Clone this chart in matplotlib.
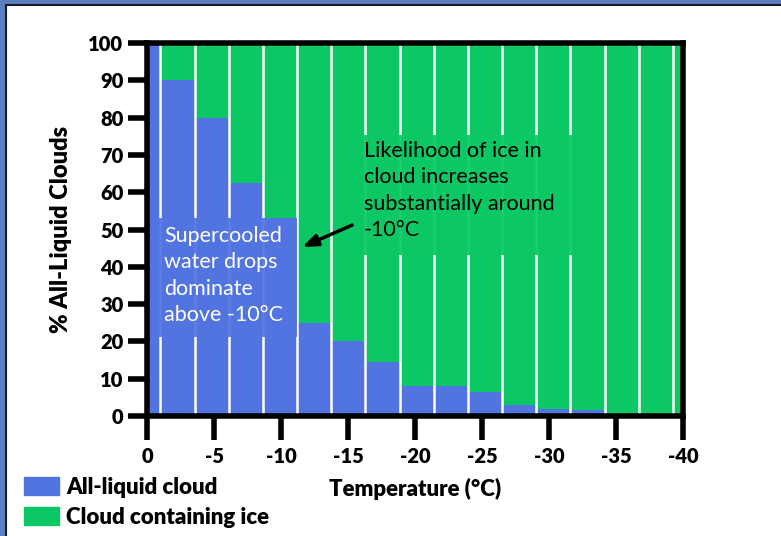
import matplotlib.pyplot as plt
import matplotlib.patches as mpatches
import numpy as np

plt.rcParams['axes.unicode_minus'] = False

# temperature bin edges (deg C) and % of all-liquid clouds in each bin
temp_edges = [0, -1, -3.55, -6.1, -8.65, -11.2, -13.75, -16.3, -18.85, -21.4,
              -23.95, -26.5, -29.05, -31.6, -34.15, -36.7, -39.25, -40]
liquid_pct = [100, 90, 80, 62.5, 53, 25, 20, 14.5, 8, 8, 6.5, 3, 2, 1.5, 0, 0, 0]
x_ticks = [0, -5, -10, -15, -20, -25, -30, -35, -40]
y_ticks = list(range(0, 101, 10))

blue = '#5274e0'
green = '#0cc864'

edges = np.array(temp_edges)
liquid = np.array(liquid_pct)
left = edges[:-1]
widths = edges[1:] - edges[:-1]

fig = plt.figure(figsize=(7.81, 5.36), dpi=100)
# slide-like frame
fig.patches.append(mpatches.Rectangle((0, 0), 1, 1, transform=fig.transFigure,
                                      facecolor='#5b7fbf', edgecolor='none', zorder=-10))
fig.patches.append(mpatches.Rectangle((6 / 781, -0.1), 1.1, 1.1 - 5 / 536,
                                      transform=fig.transFigure, facecolor='white',
                                      edgecolor='#1a1a2a', linewidth=1.5, zorder=-9))

ax = fig.add_axes([147 / 781, 1 - 416 / 536, (683 - 147) / 781, (416 - 43) / 536])
ax.bar(left, liquid, width=widths, align='edge', color=blue, linewidth=0)
ax.bar(left, 100 - liquid, width=widths, bottom=liquid, align='edge', color=green, linewidth=0)
ax.vlines(edges[1:-1], 0, 100, colors='white', linewidth=1.8, zorder=3)

ax.set_xlim(0, -40)
ax.set_ylim(0, 100)
ax.set_xticks(x_ticks)
ax.set_yticks(y_ticks)
for s in ax.spines.values():
    s.set_linewidth(4)
    s.set_zorder(5)
ax.tick_params(axis='both', direction='out', width=4, labelsize=14.5)
ax.tick_params(axis='y', length=14, pad=3)
ax.tick_params(axis='x', length=17, pad=5)
for lab in ax.get_xticklabels() + ax.get_yticklabels():
    lab.set_fontfamily('Lato')
    lab.set_fontweight('heavy')

ax.set_ylabel('% All-Liquid Clouds', fontsize=17, fontweight='heavy', family='Lato', labelpad=12)
ax.set_xlabel('Temperature (\u00b0C)', fontsize=16, fontweight='heavy', family='Lato', labelpad=9)

# annotation boxes (axes fraction)
ax.add_patch(mpatches.Rectangle((0, (416 - 337) / 373), 150 / 536, 119 / 373,
                                transform=ax.transAxes, facecolor=blue, edgecolor='none',
                                alpha=0.93, zorder=4))
ax.add_patch(mpatches.Rectangle((213 / 536, (416 - 255) / 373), 215 / 536, 120 / 373,
                                transform=ax.transAxes, facecolor=green, edgecolor='none',
                                alpha=0.93, zorder=4))
ax.text(17 / 536, (416 - 226) / 373, 'Supercooled\nwater drops\ndominate\nabove -10\u00b0C',
        transform=ax.transAxes, color='white', fontsize=15.5, family='Lato',
        va='top', ha='left', linespacing=1.4, zorder=6)
ax.text(217 / 536, (416 - 141) / 373,
        'Likelihood of ice in\ncloud increases\nsubstantially around\n-10\u00b0C',
        transform=ax.transAxes, color='black', fontsize=15.5, family='Lato',
        va='top', ha='left', linespacing=1.4, zorder=6)
ax.annotate('', xy=(-11.4, 45), xytext=(-15.5, 51.5),
            arrowprops=dict(arrowstyle='-|>,head_length=0.9,head_width=0.35', color='black', lw=2.5),
            zorder=7)

# legend
fig.legend(handles=[mpatches.Patch(color=blue, label='All-liquid cloud'),
                    mpatches.Patch(color=green, label='Cloud containing ice')],
           loc='lower left', bbox_to_anchor=(12 / 781, -4 / 536), frameon=False,
           prop={'family': 'Lato', 'weight': 'heavy', 'size': 16},
           handlelength=1.55, handleheight=0.85, handletextpad=0.35, labelspacing=0.4,
           borderaxespad=0.15)

fig.savefig('out.png', dpi=100)
